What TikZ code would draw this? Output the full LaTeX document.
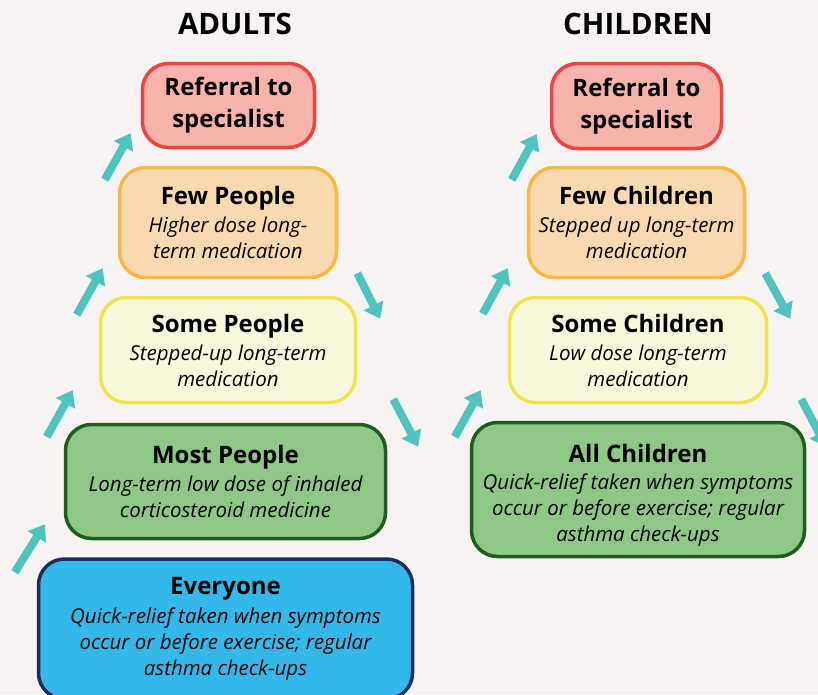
\documentclass[tikz,border=0pt]{standalone}
\usepackage{fontspec}
\setmainfont{Open Sans}
\usetikzlibrary{arrows.meta}
\definecolor{paper}{HTML}{F7F3F2}
\definecolor{refFill}{HTML}{F9B3AD}
\definecolor{refLine}{HTML}{EE4343}
\definecolor{fewFill}{HTML}{F9D9AF}
\definecolor{fewLine}{HTML}{F7B844}
\definecolor{someFill}{HTML}{F7F7DC}
\definecolor{someLine}{HTML}{EDE64E}
\definecolor{mostFill}{HTML}{8FC786}
\definecolor{mostLine}{HTML}{1D5E1F}
\definecolor{allFill}{HTML}{33B9E9}
\definecolor{allLine}{HTML}{1E2E5C}
\definecolor{teal}{HTML}{4FC3BD}
\newcommand{\head}[1]{{\fontsize{24}{26}\selectfont\bfseries #1}}
\newcommand{\note}[1]{{\itshape #1}}

\begin{document}
\begin{tikzpicture}[
    x=1pt, y=-1pt,
    box/.style={draw, line width=3.5pt, rounded corners=26pt, align=center, inner sep=0pt,
      font=\fontsize{20.5}{26}\selectfont},
    arr/.style={-{Triangle[length=15pt,width=21pt]}, line width=8pt, teal},
    title/.style={font=\fontsize{29.5}{30}\selectfont\bfseries}
]
\fill[paper] (0,0) rectangle (818,694);
\useasboundingbox (0,0) rectangle (818,694);

% Titles
\node[title] (adults) at (235,24) {ADULTS};
\node[title] (children) at (638,24) {CHILDREN};

% Adults
\node[box, fill=refFill, draw=refLine, minimum width=172, minimum height=84] (ref) at (228.5,105.5)
  {\head{Referral to}\\[6pt]\head{specialist}};
\node[box, fill=fewFill, draw=fewLine, minimum width=217, minimum height=110] (few) at (228,222.5)
  {\head{Few People}\\[2pt]\note{Higher dose long-}\\\note{term medication}};
\node[box, fill=someFill, draw=someLine, minimum width=255, minimum height=105] (some) at (228,350)
  {\head{Some People}\\[2pt]\note{Stepped-up long-term}\\\note{medication}};
\node[box, fill=mostFill, draw=mostLine, minimum width=320, minimum height=114] (most) at (225.5,481.5)
  {\head{Most People}\\[2pt]\note{Long-term low dose of inhaled}\\\note{corticosteroid medicine}};
\node[box, fill=allFill, draw=allLine, minimum width=374, minimum height=140] (every) at (225.5,629)
  {\head{Everyone}\\[3pt]\note{Quick-relief taken when symptoms}\\\note{occur or before exercise; regular}\\\note{asthma check-ups}};

% Children
\node[box, fill=refFill, draw=refLine, minimum width=170, minimum height=85] (cref) at (636.5,106)
  {\head{Referral to}\\[6pt]\head{specialist}};
\node[box, fill=fewFill, draw=fewLine, minimum width=216, minimum height=110] (cfew) at (636.5,222.5)
  {\head{Few Children}\\[2pt]\note{Stepped up long-term}\\\note{medication}};
\node[box, fill=someFill, draw=someLine, minimum width=257, minimum height=105] (csome) at (638,350)
  {\head{Some Children}\\[2pt]\note{Low dose long-term}\\\note{medication}};
\node[box, fill=mostFill, draw=mostLine, minimum width=333, minimum height=134] (call) at (638,489.5)
  {\rule{0pt}{30pt}\head{All Children}\\[1pt]\note{Quick-relief taken when symptoms}\\\note{occur or before exercise; regular}\\\note{asthma check-ups}};

% steps up, adults
\draw[arr] ([shift={(-22,15)}]every.north west) -- ([shift={(-19,-16)}]most.south west);
\draw[arr] ([shift={(-17,14)}]most.north west) -- ([shift={(-26,-14)}]some.south west);
\draw[arr] ([shift={(-22,19)}]some.north west) -- ([shift={(-15,-11)}]few.south west);
\draw[arr] ([shift={(-13,14)}]few.north west) -- ([shift={(-10,-16)}]ref.south west);
% steps down, adults
\draw[arr] ([shift={(19,-6)}]few.south east) -- ([shift={(23,23)}]some.north east);
\draw[arr] ([shift={(36,-5)}]some.south east) -- ([shift={(31,24)}]most.north east);

% steps up, children
\draw[arr] ([shift={(-15,16)}]call.north west) -- ([shift={(-27,-14)}]csome.south west);
\draw[arr] ([shift={(-25,18)}]csome.north west) -- ([shift={(-19,-11)}]cfew.south west);
\draw[arr] ([shift={(-15,14)}]cfew.north west) -- ([shift={(-13,-16)}]cref.south west);
% steps down, children
\draw[arr] ([shift={(19,-6)}]cfew.south east) -- ([shift={(22,23)}]csome.north east);
\draw[arr] ([shift={(33,-5)}]csome.south east) -- ([shift={(20,26)}]call.north east);
\end{tikzpicture}
\end{document}
